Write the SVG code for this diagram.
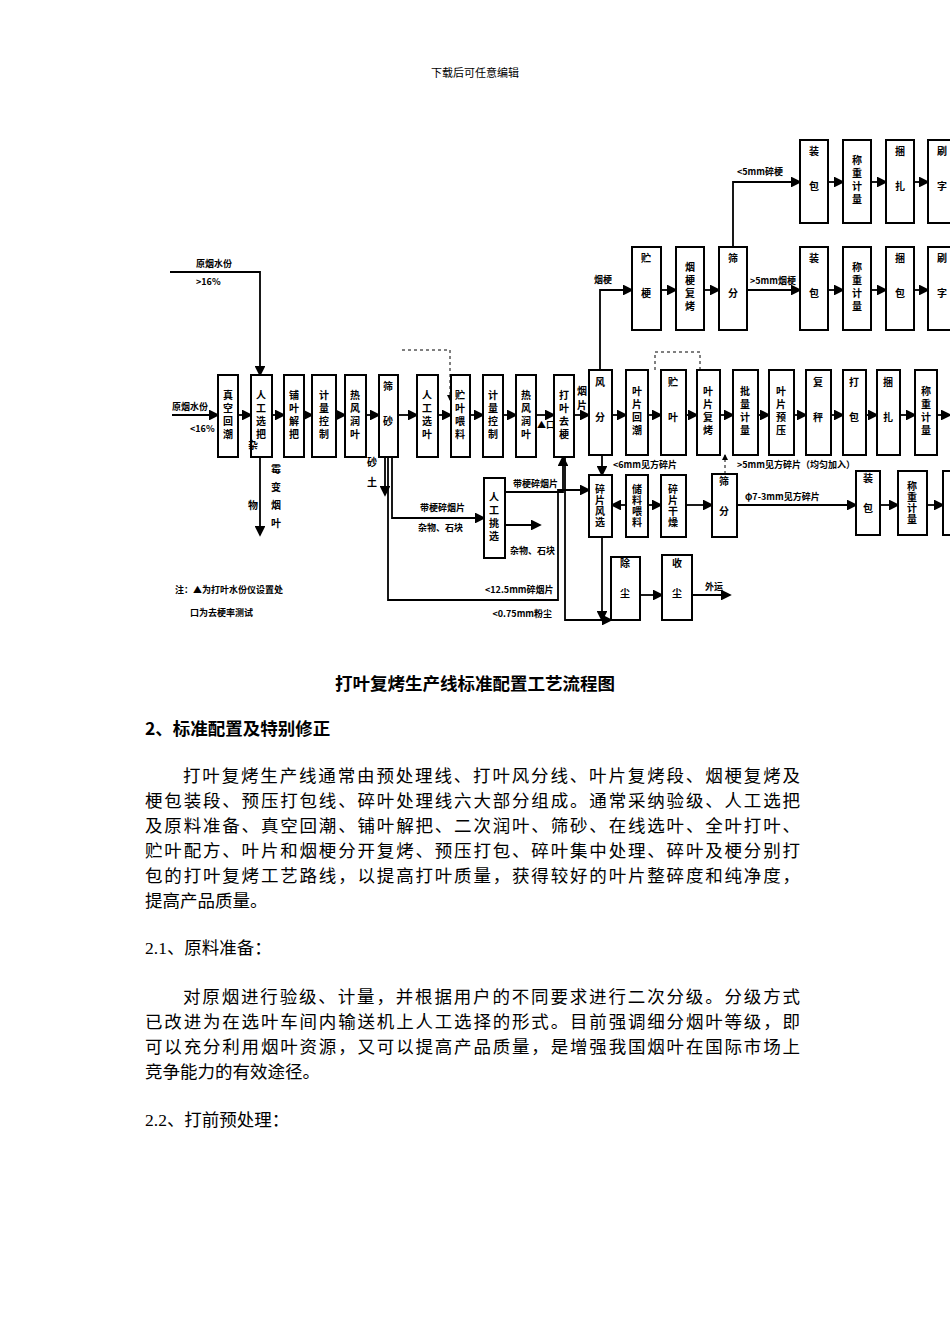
<svg xmlns="http://www.w3.org/2000/svg" width="950" height="1344" viewBox="0 0 950 1344">
<style>
.b{fill:#fff;stroke:#000;stroke-width:2}
.l{fill:none;stroke:#000;stroke-width:1.8}
.d{fill:none;stroke:#000;stroke-width:1;stroke-dasharray:3,3}
.v{font-family:"Noto Sans CJK SC",sans-serif;font-size:10px;font-weight:bold;writing-mode:tb;text-anchor:middle;letter-spacing:3px}
.s{font-family:"Noto Sans CJK SC",sans-serif;font-size:9px;font-weight:bold}
.t{font-family:"Liberation Serif","Noto Sans CJK SC",serif;font-size:17.5px}
</style>
<defs><marker id="a" markerWidth="6" markerHeight="6" refX="5" refY="3" orient="auto"><path d="M0,0L6,3L0,6z"/></marker></defs>
<text x="475" y="77" text-anchor="middle" style="font-family:'Noto Sans CJK SC',sans-serif;font-size:11px">下载后可任意编辑</text>
<g id="connectors" marker-end="url(#a)">
<path class="l" d="M172,415H218"/><path class="l" d="M170,272H260V375"/>
<path class="l" d="M238,415H251"/><path class="l" d="M272,415H284"/><path class="l" d="M304,415H312"/><path class="l" d="M336,415H345"/><path class="l" d="M366,415H379"/><path class="l" d="M398,415H417"/><path class="l" d="M438,415H451"/><path class="l" d="M470,415H483"/><path class="l" d="M503,415H516"/><path class="l" d="M536,415H554"/><path class="l" d="M574,415H589"/>
<path class="l" d="M260,457V535"/><path class="l" d="M385,457V495"/>
<path class="l" d="M392,457V518H484"/><path class="l" d="M505,492H563V457"/><path class="l" d="M505,525H540"/>
<path class="l" d="M388,457V600H558V490H589"/>
<path class="l" d="M565,457V620H611"/>
<path class="l" d="M600,370V290H632"/><path class="l" d="M661,290H676"/><path class="l" d="M704,290H719"/><path class="l" d="M747,290H800"/><path class="l" d="M733,247V182H800"/>
<path class="l" d="M828,182H843"/><path class="l" d="M871,182H886"/><path class="l" d="M914,182H928"/>
<path class="l" d="M828,290H843"/><path class="l" d="M871,290H886"/><path class="l" d="M914,290H928"/>
<path class="l" d="M612,415H626"/><path class="l" d="M648,415H661"/><path class="l" d="M686,415H697"/><path class="l" d="M720,415H733"/><path class="l" d="M758,415H769"/><path class="l" d="M794,415H806"/><path class="l" d="M831,415H843"/><path class="l" d="M866,415H877"/><path class="l" d="M900,415H915"/><path class="l" d="M937,415H950"/>
<path class="l" d="M602,455V475"/><path class="l" d="M626,505H612"/><path class="l" d="M648,505H661"/><path class="l" d="M686,505H712"/><path class="l" d="M737,505H856"/><path class="l" d="M880,505H898"/><path class="l" d="M927,505H943"/>
<path class="l" d="M602,537V620"/><path class="l" d="M640,595H662"/><path class="l" d="M692,595H730"/>
<path class="d" d="M725,474V455"/><path class="d" d="M655,370V352H700V380"/><path class="d" d="M402,350H450V400"/>
</g>
<g id="nodes">
<g id="n1"><rect class="b" x="218" y="375" width="20" height="82"/><text class="v" x="228" y="416">真空回潮</text></g>
<g id="n2"><rect class="b" x="251" y="375" width="21" height="82"/><text class="v" x="261" y="416">人工选把</text></g>
<g id="n3"><rect class="b" x="284" y="375" width="20" height="82"/><text class="v" x="294" y="416">铺叶解把</text></g>
<g id="n4"><rect class="b" x="312" y="375" width="24" height="82"/><text class="v" x="324" y="416">计量控制</text></g>
<g id="n5"><rect class="b" x="345" y="375" width="21" height="82"/><text class="v" x="355" y="416">热风润叶</text></g>
<g id="n6"><rect class="b" x="379" y="375" width="19" height="82"/><text class="v" x="388" y="416" style="letter-spacing:25px">筛砂</text></g>
<g id="n7"><rect class="b" x="417" y="375" width="21" height="82"/><text class="v" x="427" y="416">人工选叶</text></g>
<g id="n8"><rect class="b" x="451" y="375" width="19" height="82"/><text class="v" x="460" y="416">贮叶喂料</text></g>
<g id="n9"><rect class="b" x="483" y="375" width="20" height="82"/><text class="v" x="493" y="416">计量控制</text></g>
<g id="n10"><rect class="b" x="516" y="375" width="20" height="82"/><text class="v" x="526" y="416">热风润叶</text></g>
<g id="n11"><rect class="b" x="554" y="375" width="20" height="82"/><text class="v" x="564" y="416">打叶去梗</text></g>
<g id="n12"><rect class="b" x="484" y="478" width="21" height="80"/><text class="v" x="494" y="518">人工挑选</text></g>
<g id="n13"><rect class="b" x="589" y="370" width="23" height="85"/><text class="v" x="600" y="412" style="letter-spacing:25px">风分</text></g>
<g id="n14"><rect class="b" x="626" y="370" width="22" height="85"/><text class="v" x="637" y="412">叶片回潮</text></g>
<g id="n15"><rect class="b" x="661" y="370" width="25" height="85"/><text class="v" x="673" y="412" style="letter-spacing:25px">贮叶</text></g>
<g id="n16"><rect class="b" x="697" y="370" width="23" height="85"/><text class="v" x="708" y="412">叶片复烤</text></g>
<g id="n17"><rect class="b" x="733" y="370" width="25" height="85"/><text class="v" x="745" y="412">批量计量</text></g>
<g id="n18"><rect class="b" x="769" y="370" width="25" height="85"/><text class="v" x="781" y="412">叶片预压</text></g>
<g id="n19"><rect class="b" x="806" y="370" width="25" height="85"/><text class="v" x="818" y="412" style="letter-spacing:25px">复秤</text></g>
<g id="n20"><rect class="b" x="843" y="370" width="23" height="85"/><text class="v" x="854" y="412" style="letter-spacing:25px">打包</text></g>
<g id="n21"><rect class="b" x="877" y="370" width="23" height="85"/><text class="v" x="888" y="412" style="letter-spacing:25px">捆扎</text></g>
<g id="n22"><rect class="b" x="915" y="370" width="22" height="85"/><text class="v" x="926" y="412">称重计量</text></g>
<g id="n23"><rect class="b" x="632" y="247" width="29" height="83"/><text class="v" x="646" y="288" style="letter-spacing:25px">贮梗</text></g>
<g id="n24"><rect class="b" x="676" y="247" width="28" height="83"/><text class="v" x="690" y="288">烟梗复烤</text></g>
<g id="n25"><rect class="b" x="719" y="247" width="28" height="83"/><text class="v" x="733" y="288" style="letter-spacing:25px">筛分</text></g>
<g id="n26"><rect class="b" x="800" y="247" width="28" height="83"/><text class="v" x="814" y="288" style="letter-spacing:25px">装包</text></g>
<g id="n27"><rect class="b" x="843" y="247" width="28" height="83"/><text class="v" x="857" y="288">称重计量</text></g>
<g id="n28"><rect class="b" x="886" y="247" width="28" height="83"/><text class="v" x="900" y="288" style="letter-spacing:25px">捆包</text></g>
<g id="n29"><rect class="b" x="928" y="247" width="30" height="83"/><text class="v" x="942" y="288" style="letter-spacing:25px">刷字</text></g>
<g id="n30"><rect class="b" x="800" y="140" width="28" height="83"/><text class="v" x="814" y="181" style="letter-spacing:25px">装包</text></g>
<g id="n31"><rect class="b" x="843" y="140" width="28" height="83"/><text class="v" x="857" y="181">称重计量</text></g>
<g id="n32"><rect class="b" x="886" y="140" width="28" height="83"/><text class="v" x="900" y="181" style="letter-spacing:25px">捆扎</text></g>
<g id="n33"><rect class="b" x="928" y="140" width="30" height="83"/><text class="v" x="942" y="181" style="letter-spacing:25px">刷字</text></g>
<g id="n34"><rect class="b" x="589" y="475" width="23" height="62"/><text class="v" x="600" y="506" style="letter-spacing:1px">碎片风选</text></g>
<g id="n35"><rect class="b" x="626" y="475" width="22" height="62"/><text class="v" x="637" y="506" style="letter-spacing:1px">储料喂料</text></g>
<g id="n36"><rect class="b" x="661" y="475" width="25" height="62"/><text class="v" x="673" y="506" style="letter-spacing:1px">碎片干燥</text></g>
<g id="n37"><rect class="b" x="712" y="474" width="25" height="63"/><text class="v" x="724" y="506" style="letter-spacing:20px">筛分</text></g>
<g id="n38"><rect class="b" x="856" y="471" width="24" height="64"/><text class="v" x="868" y="503" style="letter-spacing:20px">装包</text></g>
<g id="n39"><rect class="b" x="898" y="471" width="29" height="64"/><text class="v" x="912" y="503" style="letter-spacing:1px">称重计量</text></g>
<g id="n40"><rect class="b" x="943" y="471" width="14" height="64"/></g>
<g id="n41"><rect class="b" x="611" y="557" width="29" height="63"/><text class="v" x="625" y="588" style="letter-spacing:20px">除尘</text></g>
<g id="n42"><rect class="b" x="662" y="555" width="30" height="65"/><text class="v" x="677" y="588" style="letter-spacing:20px">收尘</text></g>
</g>
<g id="labels" class="s">
<text x="196" y="267">原烟水份</text><text x="196" y="285">&gt;16%</text>
<text x="172" y="410">原烟水份</text><text x="190" y="432">&lt;16%</text>
<text class="v" x="253" y="500" style="letter-spacing:50px">杂物</text><text class="v" x="276" y="500" style="letter-spacing:8px">霉变烟叶</text>
<text class="v" x="372" y="477" style="letter-spacing:10px">砂土</text>
<text x="420" y="511">带梗碎烟片</text><text x="418" y="531">杂物、石块</text>
<text x="513" y="487">带梗碎烟片</text><text x="510" y="554">杂物、石块</text>
<text x="485" y="593">&lt;12.5mm碎烟片</text><text x="552" y="617" text-anchor="end">&lt;0.75mm粉尘</text>
<text x="537" y="428">▲口</text>
<text x="612" y="283" text-anchor="end">烟梗</text><text x="737" y="175">&lt;5mm碎梗</text><text x="750" y="284">&gt;5mm烟梗</text>
<text class="v" x="582" y="400" style="letter-spacing:4px">烟片</text>
<text x="613" y="468">&lt;6mm见方碎片</text><text x="737" y="468">&gt;5mm见方碎片（均匀加入）</text>
<text x="745" y="500">φ7-3mm见方碎片</text><text x="705" y="590">外运</text>
<text x="175" y="593">注：▲为打叶水份仪设置处</text><text x="190" y="616">口为去梗率测试</text>
</g>
<g class="t">
<text x="475" y="690" text-anchor="middle" font-weight="bold" font-family="Noto Sans CJK SC">打叶复烤生产线标准配置工艺流程图</text>
<text x="145" y="735" font-weight="bold" font-family="Noto Sans CJK SC">2、标准配置及特别修正</text>
<text x="183" y="782" textLength="617">打叶复烤生产线通常由预处理线、打叶风分线、叶片复烤段、烟梗复烤及</text>
<text x="145" y="807" textLength="655">梗包装段、预压打包线、碎叶处理线六大部分组成。通常采纳验级、人工选把</text>
<text x="145" y="832" textLength="655">及原料准备、真空回潮、铺叶解把、二次润叶、筛砂、在线选叶、全叶打叶、</text>
<text x="145" y="857" textLength="655">贮叶配方、叶片和烟梗分开复烤、预压打包、碎叶集中处理、碎叶及梗分别打</text>
<text x="145" y="882" textLength="655">包的打叶复烤工艺路线，以提高打叶质量，获得较好的叶片整碎度和纯净度，</text>
<text x="145" y="907">提高产品质量。</text>
<text x="145" y="954">2.1、原料准备：</text>
<text x="183" y="1003" textLength="617">对原烟进行验级、计量，并根据用户的不同要求进行二次分级。分级方式</text>
<text x="145" y="1028" textLength="655">已改进为在选叶车间内输送机上人工选择的形式。目前强调细分烟叶等级，即</text>
<text x="145" y="1053" textLength="655">可以充分利用烟叶资源，又可以提高产品质量，是增强我国烟叶在国际市场上</text>
<text x="145" y="1078">竞争能力的有效途径。</text>
<text x="145" y="1126">2.2、打前预处理：</text>
</g>
</svg>
